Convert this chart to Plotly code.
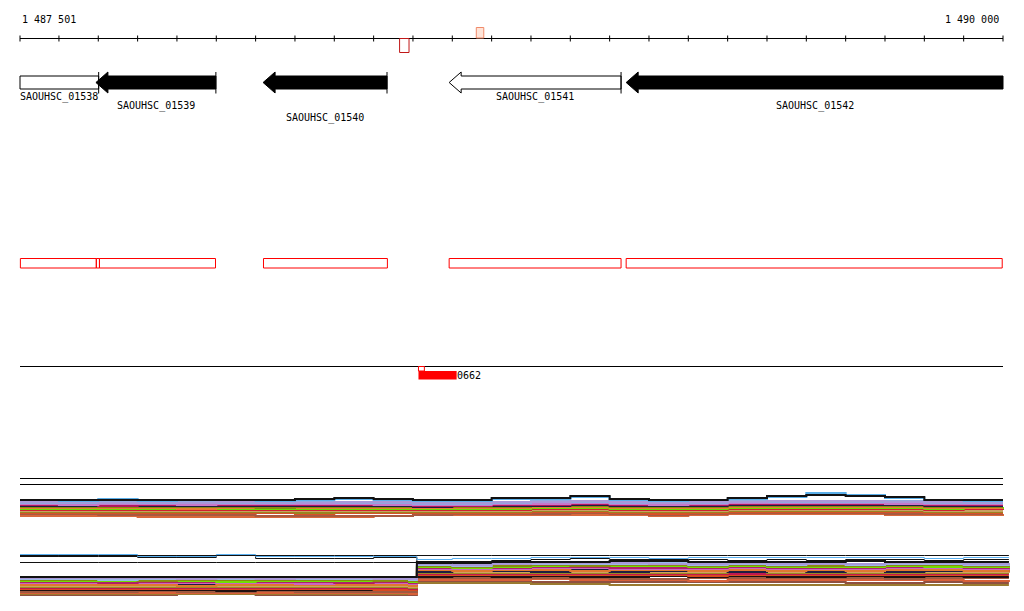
import plotly.graph_objects as go

# ---------------- data ----------------
view_start = 1487501
view_end = 1490000

tick_positions = [1487501, 1487600, 1487700, 1487800, 1487900, 1488000, 1488100,
                  1488200, 1488300, 1488400, 1488500, 1488600, 1488700, 1488800,
                  1488900, 1489000, 1489100, 1489200, 1489300, 1489400, 1489500,
                  1489600, 1489700, 1489800, 1489900, 1490000]
tick_labels = ["1 487 501", "1 490 000"]

gene_names = ["SAOUHSC_01538", "SAOUHSC_01539", "SAOUHSC_01540", "SAOUHSC_01541", "SAOUHSC_01542"]
gene_starts = [1487501, 1487694, 1488119, 1488592, 1489042]
gene_ends = [1487701, 1487999, 1488434, 1489029, 1490000]
gene_has_head = [False, True, True, True, True]
gene_fill = ["white", "black", "black", "white", "black"]
gene_end_bar = [True, True, True, True, False]

cds_starts = [1487502, 1487695, 1487703, 1488120, 1488592, 1489042]
cds_ends = [1487695, 1487703, 1487998, 1488435, 1489029, 1489998]

marker_red = (1488466, 1488490)
marker_peach = (1488661, 1488680)

feature_name = "0662"
feature_box = (1488514, 1488529)
feature_fill = (1488514, 1488611)

# coverage track 1 (values above baseline), listed top to bottom
t1_x = [1487501, 1487600, 1487700, 1487800, 1487900, 1488000, 1488100, 1488200,
        1488300, 1488400, 1488500, 1488600, 1488700, 1488800, 1488900, 1489000,
        1489100, 1489200, 1489300, 1489400, 1489500, 1489600, 1489700, 1489800,
        1489900, 1490000]
t1_series = [
    ("#111111", [20, 20, 20, 20, 20, 20, 20, 21, 22, 21, 20, 20, 22, 22, 24, 21, 20, 20, 22, 24, 25, 24, 23, 20, 20, 20]),
    ("#5aaee8", [20, 19, 21, 19, 20, 20, 19, 20, 21, 20, 19, 19, 21, 21, 23, 20, 19, 20, 21, 23, 27, 25, 22, 20, 19, 19]),
    ("#a898d8", [18, 18, 17, 18, 17, 18, 18, 17, 18, 18, 17, 17, 18, 18, 19, 18, 17, 18, 18, 19, 19, 19, 18, 18, 18, 18]),
    ("#8fa8e0", [17, 17, 18, 17, 18, 17, 17, 18, 17, 17, 16, 16, 17, 19, 18, 17, 18, 17, 19, 18, 18, 18, 19, 17, 17, 17]),
    ("#c878c8", [16, 15, 16, 16, 15, 16, 16, 16, 16, 15, 15, 15, 16, 16, 17, 16, 15, 16, 17, 17, 17, 17, 16, 16, 16, 16]),
    ("#b01860", [15, 16, 14, 15, 16, 15, 15, 15, 15, 16, 14, 14, 15, 15, 16, 15, 16, 15, 16, 16, 16, 16, 17, 15, 15, 15]),
    ("#1e1e40", [14, 14, 15, 14, 14, 14, 14, 14, 14, 14, 13, 15, 14, 14, 15, 14, 14, 14, 15, 15, 15, 15, 15, 14, 14, 14]),
    ("#8a8a10", [13, 13, 13, 13, 13, 13, 12, 13, 13, 13, 13, 13, 13, 14, 14, 13, 13, 13, 14, 14, 14, 14, 14, 13, 13, 13]),
    ("#e87a30", [12, 12, 12, 12, 11, 12, 13, 12, 12, 12, 12, 12, 12, 13, 13, 12, 12, 12, 13, 13, 13, 13, 13, 12, 12, 12]),
    ("#66dd00", [11, 11, 11, 11, 12, 11, 11, 11, 11, 11, 11, 11, 11, 12, 12, 11, 11, 11, 12, 12, 12, 12, 12, 11, 12, 11]),
    ("#d02030", [10, 10, 10, 10, 10, 10, 10, 10, 10, 10, 10, 10, 10, 11, 11, 10, 10, 10, 11, 11, 11, 11, 11, 10, 11, 10]),
    ("#c8a060", [9, 9, 9, 9, 9, 9, 9, 9, 9, 9, 9, 9, 9, 10, 10, 9, 9, 9, 10, 10, 10, 10, 10, 9, 9, 9]),
    ("#9a8420", [8, 8, 8, 8, 8, 8, 8, 7, 8, 8, 8, 8, 8, 9, 9, 8, 8, 8, 9, 9, 9, 9, 9, 8, 8, 8]),
    ("#d85028", [7, 7, 7, 7, 7, 7, 7, 6, 7, 7, 7, 7, 7, 8, 8, 7, 6, 7, 8, 8, 8, 8, 8, 7, 7, 7]),
    ("#a85a40", [6, 6, 5, 5, 5, 5, 4, 4, 4, 4, 5, 6, 6, 6, 7, 6, 5, 6, 7, 7, 7, 7, 6, 6, 6, 6]),
    ("#d8683a", [4, 4, 4, 3, 3, 3, 3, 3, 3, 4, 5, 5, 5, 5, 5, 5, 4, 5, 6, 6, 6, 6, 5, 5, 5, 6]),
]

# coverage track 2 (values above baseline), listed top to bottom
t2_x = [1487501, 1487600, 1487700, 1487800, 1487900, 1488000, 1488100, 1488200,
        1488300, 1488400, 1488490, 1488510, 1488600, 1488700, 1488800, 1488900,
        1489000, 1489100, 1489200, 1489300, 1489400, 1489500, 1489600, 1489700,
        1489800, 1489900, 1490015]
t2_lines = [  # thin outline-like series
    ("#111111", [44.5, 44.5, 44.5, 44.5, 44.5, 44.5, 44.5, 44.5, 44.5, 44.5, 44.5, 44.5, 44.5, 44.5, 44.5, 44.5, 44.5, 44.5, 44.5, 44.5, 44.5, 44.5, 44.5, 44.5, 44.5, 44.5, 44.5]),
    ("#5ab0f0", [45.5, 45.5, 45.5, 43.5, 43.5, 45.5, 43.5, 43.5, 43.5, 43.5, 43.5, 40.5, 41.5, 41.5, 42.5, 42.5, 42.5, 41.5, 42.5, 42.5, 42.5, 42.5, 42.5, 42.5, 41.5, 42.5, 42.5]),
    ("#111111", [43.5, 43.5, 43.5, 42.5, 42.5, 44.5, 41.5, 41.5, 41.5, 42.5, 42.5, 36.5, 36.5, 39.5, 40.5, 41.5, 40.5, 40.5, 40.5, 39.5, 40.5, 39.5, 40.5, 40.5, 39.5, 40.5, 40.5]),
    ("#111111", [37.5, 37.5, 37.5, 37.5, 37.5, 37.5, 37.5, 37.5, 37.5, 37.5, 37.5, 37.5, 37.5, 38.5, 38.5, 38.5, 39.5, 39.5, 38.5, 38.5, 38.5, 38.5, 39.5, 38.5, 38.5, 38.5, 38.5]),
]
t2_series = [
    ("#111111", [23, 23, 23, 23, 23, 23, 23, 23, 23, 23, 23, 38, 38, 38, 38, 38, 39, 39, 38, 38, 38, 38, 39, 38, 38, 38, 38]),
    ("#a898d8", [22, 22, 22, 22, 21, 22, 21, 22, 22, 21, 21, 36, 35, 36, 37, 37, 37, 36, 36, 37, 36, 36, 36, 37, 37, 36, 37]),
    ("#9ab8e8", [21, 21, 20, 21, 22, 21, 22, 21, 21, 22, 20, 35, 34, 37, 36, 36, 36, 37, 35, 36, 35, 37, 35, 36, 36, 35, 36]),
    ("#8a8a10", [20, 20, 21, 19, 20, 20, 20, 20, 20, 19, 19, 34, 33, 34, 35, 34, 35, 35, 34, 35, 34, 34, 34, 35, 35, 34, 35]),
    ("#70e000", [19, 19, 19, 20, 19, 18, 19, 19, 19, 20, 18, 33, 32, 33, 34, 35, 34, 34, 33, 34, 33, 33, 33, 34, 33, 33, 34]),
    ("#b02068", [18, 18, 17, 18, 18, 19, 18, 18, 17, 18, 17, 32, 33, 32, 33, 33, 32, 32, 32, 33, 32, 32, 32, 33, 34, 32, 33]),
    ("#c868c0", [17, 17, 18, 17, 17, 17, 17, 16, 18, 17, 16, 31, 31, 31, 32, 32, 31, 31, 31, 32, 31, 31, 31, 32, 32, 31, 32]),
    ("#e07830", [15, 15, 15, 15, 14, 15, 15, 15, 15, 15, 14, 30, 29, 30, 30, 29, 30, 30, 29, 30, 29, 30, 29, 30, 30, 29, 30]),
    ("#1e1e40", [16, 16, 16, 16, 16, 16, 16, 17, 16, 16, 15, 28, 30, 29, 28, 30, 28, 29, 30, 28, 30, 28, 30, 28, 29, 30, 28]),
    ("#d0a060", [14, 14, 14, 14, 15, 14, 14, 14, 14, 14, 13, 29, 28, 28, 29, 28, 29, 28, 28, 29, 28, 29, 28, 29, 28, 28, 29]),
    ("#9a8a20", [13, 13, 13, 13, 13, 13, 13, 13, 13, 13, 12, 27, 27, 27, 27, 27, 27, 27, 27, 28, 27, 27, 27, 27, 27, 27, 27]),
    ("#c01850", [12, 12, 12, 12, 12, 12, 12, 12, 12, 12, 11, 26, 26, 26, 26, 26, 26, 26, 26, 26, 26, 26, 26, 26, 26, 26, 26]),
    ("#d84a20", [11, 11, 11, 11, 11, 11, 11, 11, 11, 10, 10, 25, 25, 25, 25, 25, 25, 25, 24, 25, 25, 25, 25, 25, 25, 25, 25]),
    ("#201010", [10, 10, 10, 10, 10, 9, 10, 10, 10, 10, 10, 23, 24, 23, 24, 23, 23, 24, 23, 24, 23, 23, 24, 23, 24, 23, 23]),
    ("#a05a40", [8, 8, 8, 9, 8, 8, 9, 8, 8, 8, 8, 22, 22, 22, 22, 22, 21, 21, 22, 22, 22, 22, 22, 21, 22, 22, 22]),
    ("#d86038", [7, 7, 7, 7, 7, 7, 7, 7, 7, 7, 6, 20, 20, 20, 21, 20, 20, 20, 19, 20, 20, 20, 20, 20, 20, 19, 20]),
    ("#9a7a30", [6, 6, 6, 6, 6, 6, 6, 6, 6, 6, 6, 17, 17, 17, 16, 16, 15, 15, 15, 15, 15, 15, 15, 15, 15, 15, 15]),
    ("#905040", [5, 5, 5, 5, 6, 6, 5, 5, 5, 5, 5, 18, 18, 18, 18, 18, 18, 18, 18, 18, 18, 18, 17, 17, 18, 17, 17]),
]

# ---------------- layout constants ----------------
PAGE_OFF = 8                      # default page margin of the html body
W, H = 1024 - PAGE_OFF, 611 - PAGE_OFF
LEFT_PX, RIGHT_PX = 20, 1003      # ruler extent in page pixels
bp_per_px = (view_end - view_start) / (RIGHT_PX - LEFT_PX)
x_lo = view_start - (LEFT_PX - PAGE_OFF) * bp_per_px
x_hi = x_lo + W * bp_per_px
HEAD = 12 * bp_per_px
MONO = "DejaVu Sans Mono"

fig = go.Figure()
shapes = []
annotations = []

def hline(x0, x1, y, color="black", width=1):
    shapes.append(dict(type="line", xref="x", yref="y", x0=x0, x1=x1, y0=y, y1=y,
                       line=dict(color=color, width=width)))

# ruler
hline(view_start, view_end, 38.5)
for t in tick_positions:
    shapes.append(dict(type="line", xref="x", yref="y", x0=t, x1=t, y0=35.5, y1=41.5,
                       line=dict(color="black", width=1)))
annotations.append(dict(x=view_start, y=19, xref="x", yref="y", text=tick_labels[0],
                        showarrow=False, xanchor="left", yanchor="middle",
                        font=dict(family=MONO, size=10, color="black")))
annotations.append(dict(x=view_end, y=19, xref="x", yref="y", text=tick_labels[1],
                        showarrow=False, xanchor="right", yanchor="middle", xshift=-2,
                        font=dict(family=MONO, size=10, color="black")))
shapes.append(dict(type="rect", xref="x", yref="y", x0=marker_red[0], x1=marker_red[1],
                   y0=38.5, y1=52.5, line=dict(color="#c01818", width=1), fillcolor="rgba(0,0,0,0)"))
shapes.append(dict(type="rect", xref="x", yref="y", x0=marker_peach[0], x1=marker_peach[1],
                   y0=27.5, y1=38, line=dict(color="#f08a6a", width=1), fillcolor="#ffe4d8"))

# genes
label_rows = [97, 106, 118, 97, 106]
for name, s, e, head, fill, bar, ly in zip(gene_names, gene_starts, gene_ends,
                                            gene_has_head, gene_fill, gene_end_bar, label_rows):
    if head:
        path = (f"M {s},82.5 L {s+HEAD},72 L {s+HEAD},76 L {e},76 L {e},89 "
                f"L {s+HEAD},89 L {s+HEAD},93 Z")
    else:
        path = f"M {s},76 L {e},76 L {e},89 L {s},89 Z"
    shapes.append(dict(type="path", xref="x", yref="y", path=path, fillcolor=fill,
                       line=dict(color="black", width=1)))
    if bar:
        shapes.append(dict(type="line", xref="x", yref="y", x0=e, x1=e, y0=72, y1=93.5,
                           line=dict(color="black", width=1)))
    annotations.append(dict(x=max((s + e) / 2, view_start + 39 * bp_per_px), y=ly,
                            xref="x", yref="y", text=name, showarrow=False,
                            xanchor="center", yanchor="middle",
                            font=dict(family=MONO, size=10, color="black")))

# CDS boxes
for s, e in zip(cds_starts, cds_ends):
    shapes.append(dict(type="rect", xref="x", yref="y", x0=s, x1=e, y0=258.5, y1=268,
                       line=dict(color="#ff0000", width=1), fillcolor="rgba(0,0,0,0)"))

# feature track
hline(view_start, view_end, 366.5)
shapes.append(dict(type="rect", xref="x", yref="y", x0=feature_fill[0], x1=feature_fill[1],
                   y0=371, y1=379.5, line=dict(width=0), fillcolor="#ff0000"))
shapes.append(dict(type="rect", xref="x", yref="y", x0=feature_box[0], x1=feature_box[1],
                   y0=366.5, y1=371, line=dict(color="#ff0000", width=1), fillcolor="white"))
annotations.append(dict(x=feature_fill[1], y=375, xref="x", yref="y", text=feature_name,
                        showarrow=False, xanchor="left", yanchor="middle", xshift=-2,
                        font=dict(family=MONO, size=10, color="black")))

# separator lines
hline(view_start, view_end, 478.5)
hline(view_start, view_end, 484.5)

# invisible anchor trace on main axes
fig.add_trace(go.Scatter(x=[x_lo, x_hi], y=[PAGE_OFF, PAGE_OFF], mode="lines",
                         line=dict(width=0), hoverinfo="skip", showlegend=False))

# coverage track 1 (draw bottom rows first so upper rows sit on top)
for color, vals in reversed(t1_series):
    fig.add_trace(go.Scatter(x=t1_x, y=vals, mode="lines", line_shape="hv",
                             line=dict(color=color, width=2), yaxis="y2",
                             showlegend=False, hoverinfo="skip"))
# coverage track 2
for color, vals in reversed(t2_series):
    fig.add_trace(go.Scatter(x=t2_x, y=vals, mode="lines", line_shape="hv",
                             line=dict(color=color, width=2), yaxis="y3",
                             showlegend=False, hoverinfo="skip"))
for color, vals in reversed(t2_lines):
    fig.add_trace(go.Scatter(x=t2_x, y=vals, mode="lines", line_shape="hv",
                             line=dict(color=color, width=1), yaxis="y3",
                             showlegend=False, hoverinfo="skip"))

def dom(p_bottom, p_top):
    # page pixel rows -> paper fractions of the (offset) figure
    return [1 - (p_bottom - PAGE_OFF) / H, 1 - (p_top - PAGE_OFF) / H]

fig.update_layout(
    width=W, height=H,
    margin=dict(l=0, r=0, t=0, b=0),
    paper_bgcolor="white", plot_bgcolor="white",
    xaxis=dict(range=[x_lo, x_hi], visible=False, showgrid=False, zeroline=False),
    yaxis=dict(range=[PAGE_OFF + H, PAGE_OFF], visible=False, showgrid=False,
               zeroline=False, domain=[0, 1]),
    yaxis2=dict(range=[0, 30], domain=dom(520, 490), anchor="x", visible=False,
                showgrid=False, zeroline=False),
    yaxis3=dict(range=[0, 50], domain=dom(600, 550), anchor="x", visible=False,
                showgrid=False, zeroline=False),
    shapes=shapes,
    annotations=annotations,
    showlegend=False,
)

fig.write_html("out.html")
